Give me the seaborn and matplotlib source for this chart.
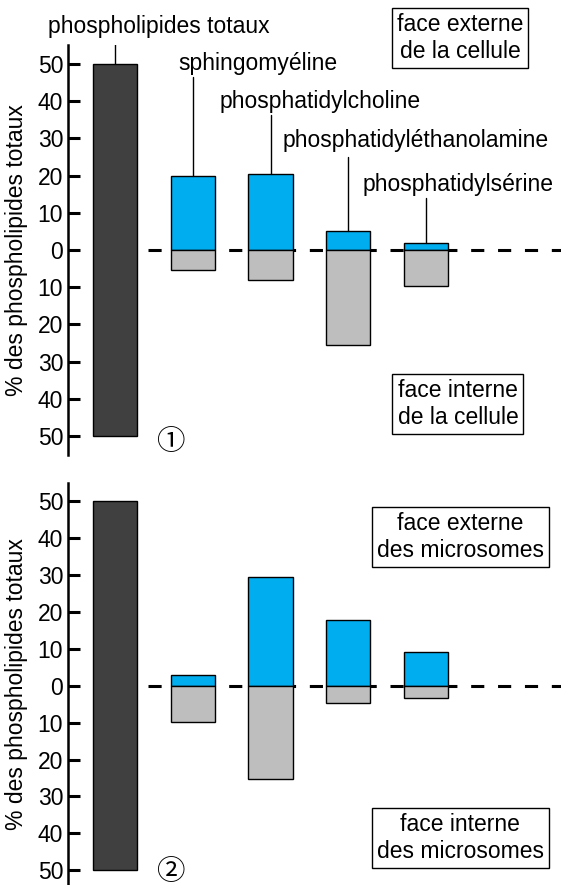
import numpy as np
import pandas as pd
import matplotlib.pyplot as plt
import seaborn as sns

# data (values in % of total phospholipids)
lipids = ['sphingomyéline', 'phosphatidylcholine',
          'phosphatidyléthanolamine', 'phosphatidylsérine']
total = 50
cell_ext = [20.0, 20.4, 5.2, 1.8]      # face externe de la cellule
cell_int = [5.5, 8.0, 25.5, 9.6]       # face interne de la cellule
micro_ext = [2.9, 29.6, 17.9, 9.3]     # face externe des microsomes
micro_int = [9.7, 25.3, 4.7, 3.3]      # face interne des microsomes
yticks = [-50, -40, -30, -20, -10, 0, 10, 20, 30, 40, 50]

sns.set_style('white')
plt.rcParams['font.family'] = ['Liberation Sans', 'DejaVu Sans']
plt.rcParams['text.color'] = 'black'
plt.rcParams['axes.labelcolor'] = 'black'
plt.rcParams['axes.edgecolor'] = 'black'
plt.rcParams['ytick.color'] = 'black'

blue = '#00aeef'
grey = '#bebebe'
dark = '#404040'
fs = 16.5
W = 0.57


def panel(ax, ext, inn, ylim, tag, tag_y, box_top, box_bot):
    df = pd.DataFrame({'pos': [1, 2, 3, 4], 'ext': ext,
                       'int': [-v for v in inn]})
    # dashed zero line
    ax.plot([0.42, 6.5], [0, 0], color='black', lw=2.2,
            ls=(0, (4.3, 4.5)), zorder=0.5)
    # total bar
    ax.bar(0, 2 * total, bottom=-total, width=W, color=dark,
           edgecolor='black', linewidth=1, zorder=2)
    sns.barplot(data=df, x='pos', y='ext', native_scale=True, width=W,
                color=blue, saturation=1, edgecolor='black', linewidth=1,
                errorbar=None, ax=ax, zorder=2)
    sns.barplot(data=df, x='pos', y='int', native_scale=True, width=W,
                color=grey, saturation=1, edgecolor='black', linewidth=1,
                errorbar=None, ax=ax, zorder=2)

    ax.set_xlim(-0.6045, 5.736)
    ax.set_ylim(*ylim)
    ax.set_xticks([])
    ax.set_xlabel('')
    ax.set_yticks(yticks)
    ax.set_yticklabels([str(abs(v)) for v in yticks], fontsize=fs)
    ax.tick_params(axis='y', direction='in', length=8.3, width=2.2,
                   pad=3.5, left=True, colors='black')
    sns.despine(ax=ax, bottom=True)
    ax.spines['left'].set_linewidth(1.8)
    ax.spines['left'].set_color('black')
    ax.set_ylabel('% des phospholipides totaux', fontsize=fs)
    ax.yaxis.set_label_coords(-0.081, 0.5)

    ax.text(0.71, tag_y, tag, fontsize=20.5, ha='center', va='center',
            family=['Noto Sans CJK JP', 'DejaVu Sans'])
    for (txt, x, y) in (box_top, box_bot):
        ax.text(x, y, txt, fontsize=fs, ha='center', va='center',
                multialignment='center',
                bbox=dict(boxstyle='square,pad=0.22', fc='white',
                          ec='black', lw=1))


fig = plt.figure(figsize=(5.61, 8.85), dpi=100)
ax1 = fig.add_axes([68 / 561, 1 - 454.6 / 885, 493 / 561, 409.2 / 885])
ax2 = fig.add_axes([68 / 561, 0, 493 / 561, 402 / 885])

panel(ax1, cell_ext, cell_int, (-55, 55), '\u2460', -51.6,
      ('face externe\nde la cellule', 4.44, 57),
      ('face interne\nde la cellule', 4.41, -41.4))
panel(ax2, micro_ext, micro_int, (-54, 55), '\u2461', -50.4,
      ('face externe\ndes microsomes', 4.44, 40.4),
      ('face interne\ndes microsomes', 4.44, -41.2))

# labels with leader lines (top panel)
lab_x = [0.81, 1.35, 2.16, 3.18]
lab_y = [48.4, 38.2, 27.8, 15.9]
lead_end = [46.5, 36.3, 25.0, 14.0]
ax1.text(-0.862, 58.3, 'phospholipides totaux', fontsize=fs,
         ha='left', va='baseline')
ax1.plot([0, 0], [total, 57.3], color='black', lw=1)
for i, name in enumerate(lipids):
    ax1.text(lab_x[i], lab_y[i], name, fontsize=fs, ha='left', va='baseline')
    ax1.plot([i + 1, i + 1], [cell_ext[i], lead_end[i]], color='black', lw=1)

plt.savefig('out.png', dpi=100)
